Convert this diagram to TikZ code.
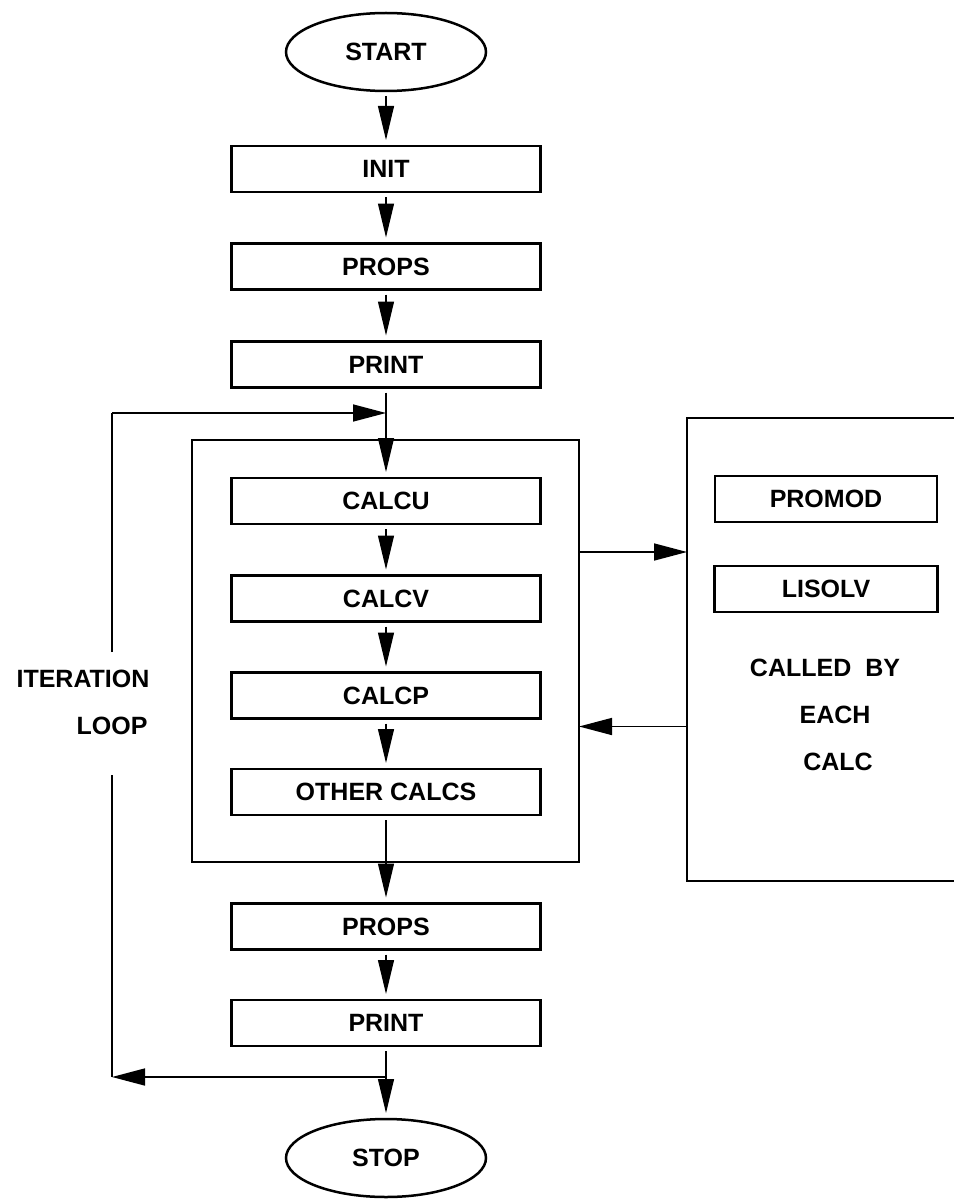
\documentclass[tikz,border=0pt]{standalone}
\usepackage{fontspec}
\setmainfont{Liberation Sans}
\usetikzlibrary{shapes.geometric, arrows.meta, positioning}

\begin{document}
\begin{tikzpicture}[x=1pt, y=-1pt, node distance=50pt,
    every node/.style={font=\fontsize{25}{30}\selectfont\bfseries},
    block/.style={rectangle, draw, line width=2.5pt, minimum width=309pt, minimum height=46pt, inner sep=0pt, outer sep=0pt},
    terminal/.style={ellipse, draw, line width=2.5pt, minimum width=200pt, minimum height=78pt, inner sep=0pt, outer sep=0pt},
    frame/.style={rectangle, draw, line width=1.6pt, inner sep=0pt, outer sep=0pt},
    arrow/.style={-{Triangle[length=34pt, width=16pt]}, line width=1.2pt, shorten <=5pt, shorten >=6pt},
    link/.style={-{Triangle[length=33pt, width=17pt]}, line width=1.6pt},
    plain/.style={line width=1.6pt}]

    \useasboundingbox (0,0) rectangle (953,1201);

    % main column
    \node (start) [terminal] at (386,52) {START};
    \node (init) [block, below=55pt of start] {INIT};
    \node (props) [block, below=51.5pt of init] {PROPS};
    \node (print) [block, below=52pt of props] {PRINT};
    \node (calcu) [block, below=90.5pt of print] {CALCU};
    \node (calcv) [block, below=51.5pt of calcu] {CALCV};
    \node (calcp) [block, below=51pt of calcv] {CALCP};
    \node (other) [block, below=50.5pt of calcp] {OTHER CALCS};
    \node (propsb) [block, below=88.5pt of other] {PROPS};
    \node (printb) [block, below=50.5pt of propsb] {PRINT};
    \node (stop) [terminal, below=73pt of printb] {STOP};

    % frames
    \node (calcs) [frame, minimum width=387pt, minimum height=422pt] at (385.5,651) {};
    \node (lib) [frame, minimum width=293pt, minimum height=463pt] at (833.5,649.5) {};

    % library routines
    \node (promod) [block, minimum width=222pt] at (826,499) {PROMOD};
    \node (lisolv) [block, minimum width=223pt, below=44pt of promod] {LISOLV};
    \node (calledby) at (825,668) {CALLED\hspace{14pt}BY};
    \node (each) at (835,715) {EACH};
    \node (calc) at (838,762) {CALC};

    \node (iter) at (83,679) {ITERATION};
    \node (loop) at (112,726) {LOOP};

    \draw [arrow] (start) -- (init);
    \draw [arrow] (init) -- (props);
    \draw [arrow] (props) -- (print);
    \draw [arrow] (print) -- (calcu);
    \draw [arrow] (calcu) -- (calcv);
    \draw [arrow] (calcv) -- (calcp);
    \draw [arrow] (calcp) -- (other);
    \draw [arrow] (other) -- (propsb);
    \draw [arrow] (propsb) -- (printb);
    \draw [arrow] (printb) -- (stop);

    \draw [link] ([yshift=99pt]calcs.east) -- ([yshift=99pt]calcs.east -| lib.west);
    \draw [link] ([yshift=-77pt]lib.west) -- ([yshift=-77pt]lib.west -| calcs.east);

    % iteration loop, broken by its label
    \coordinate (loopout) at (386,1077);
    \coordinate (loopbl) at (112,1077);
    \coordinate (gapbot) at (112,775);
    \coordinate (gaptop) at (112,652);
    \coordinate (looptl) at (112,413);
    \coordinate (loopin) at (386,413);
    \draw [link] (loopout) -- (loopbl);
    \draw [plain] (loopbl) -- (gapbot);
    \draw [plain] (gaptop) -- (looptl);
    \draw [link] (looptl) -- (loopin);
\end{tikzpicture}
\end{document}
